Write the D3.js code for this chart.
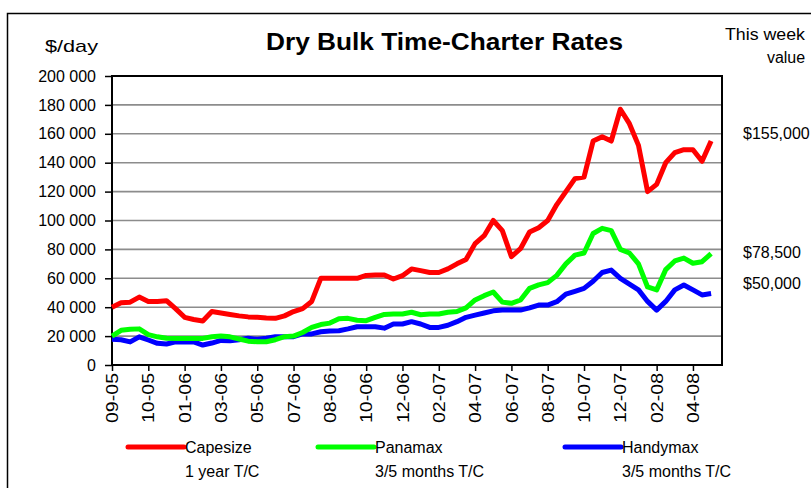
<!DOCTYPE html>
<html>
<head>
<meta charset="utf-8">
<script src="https://cdn.jsdelivr.net/npm/d3@7"></script>
<style>
  body { margin: 0; background: #fff; }
  svg { display: block; font-family: "Liberation Sans", Arial, sans-serif; }
</style>
</head>
<body>
<div id="chart"></div>
<script>
// weekly-ish readings, one tick label every 4 points
var tickLabels = ['09-05', '10-05', '01-06', '03-06', '05-06', '07-06', '08-06', '10-06', '12-06',
                  '02-07', '04-07', '06-07', '08-07', '10-07', '12-07', '02-08', '04-08']

var capesize = [40000, 43000, 43500, 47000, 44000, 44000, 44500, 39000, 33000, 31500,
                30500, 37000, 36000, 35000, 34000, 33300, 33000, 32500, 32300, 34000,
                37000, 39000, 44000, 60000, 60000, 60000, 60000, 60000, 62000, 62300,
                62300, 59500, 61800, 66500, 65300, 64000, 64000, 66500, 70000, 73000,
                84000, 89500, 100000, 93000, 75000, 80500, 92000, 95000, 100000, 111000,
                120000, 129000, 130000, 155000, 158000, 155000, 177000, 167000, 152000, 120000,
                125000, 140000, 147000, 149000, 149000, 141000, 155000]

var panamax = [20000, 24000, 24700, 25000, 21000, 19500, 18500, 18400, 18400, 18400,
               18400, 19500, 20000, 19500, 18000, 16500, 16100, 16100, 17500, 19600,
               20000, 22500, 26000, 28000, 29000, 32000, 32300, 31000, 30700, 33000,
               35000, 35300, 35300, 36500, 34800, 35300, 35300, 36500, 37000, 39500,
               45000, 48000, 50500, 43500, 42700, 45000, 53000, 55400, 57000, 62000,
               70000, 76000, 77500, 91000, 94600, 93000, 80000, 77500, 70000, 54000,
               52000, 66000, 72000, 74000, 70400, 71500, 77000]

var handymax = [17800, 17500, 16000, 19500, 17300, 15000, 14500, 16000, 16100, 16000,
                13800, 15200, 17000, 16800, 17500, 18500, 17800, 18500, 19600, 19600,
                19600, 21500, 21500, 23000, 23500, 23700, 25000, 26500, 26500, 26500,
                25500, 28400, 28400, 30000, 28400, 26000, 26000, 27500, 30000, 33000,
                34500, 36000, 37500, 38000, 38000, 38000, 39500, 41500, 41500, 43800,
                49000, 51000, 53000, 58000, 64000, 65700, 60000, 56000, 52000, 44000,
                38000, 44000, 52000, 55400, 52000, 48500, 49500]

var seriesNames = ['Capesize', 'Panamax', 'Handymax']
var seriesSub = ['1 year T/C', '3/5 months T/C', '3/5 months T/C']
var seriesColors = ['#ff0000', '#00ff00', '#0000ff']
var thisWeek = ['$155,000', '$78,500', '$50,000']

var width = 811, height = 488
var plotL = 112, plotR = 722, plotT = 76, plotB = 365

var svg = d3.select('#chart').append('svg')
    .attr('width', width)
    .attr('height', height)

// outer frame
svg.append('rect')
    .attr('x', 7.5).attr('y', 13.5)
    .attr('width', 900).attr('height', 600)
    .attr('fill', '#fff').attr('stroke', '#000').attr('stroke-width', 1.5)

var x = d3.scaleLinear().domain([0, 67.2]).range([plotL, plotR])
var y = d3.scaleLinear().domain([0, 200000]).range([plotB, plotT])

// grid
svg.append('g')
    .selectAll('line')
    .data(d3.range(20000, 200000, 20000))
    .enter().append('line')
    .attr('x1', plotL).attr('x2', plotR)
    .attr('y1', d => y(d)).attr('y2', d => y(d))
    .attr('stroke', '#8c8c8c').attr('stroke-width', 1.6)

// y axis
var yAxis = d3.axisLeft(y)
    .tickValues(d3.range(0, 200001, 20000))
    .tickSize(7)
    .tickPadding(9)
    .tickFormat(d => d3.format(',')(d).replace(/,/g, ' '))
var gy = svg.append('g').attr('transform', 'translate(' + plotL + ',0)').call(yAxis)
gy.select('.domain').remove()
gy.selectAll('line').attr('stroke', '#000').attr('stroke-width', 1.5)
gy.selectAll('text').attr('font-size', 16).attr('fill', '#000')

// x axis
var xAxis = d3.axisBottom(x)
    .tickValues(tickLabels.map((d, i) => i * 4))
    .tickSize(6)
    .tickFormat((d, i) => tickLabels[i])
var gx = svg.append('g').attr('transform', 'translate(0,' + plotB + ')').call(xAxis)
gx.select('.domain').remove()
gx.selectAll('line').attr('stroke', '#000').attr('stroke-width', 1.5)
gx.selectAll('text')
    .attr('font-size', 16).attr('fill', '#000')
    .attr('text-anchor', 'end')
    .attr('transform', 'rotate(-90)')
    .attr('x', -8).attr('y', 0).attr('dy', '0.35em')
    .attr('textLength', 50).attr('lengthAdjust', 'spacingAndGlyphs')

// plot frame
svg.append('rect')
    .attr('x', plotL).attr('y', plotT)
    .attr('width', plotR - plotL).attr('height', plotB - plotT)
    .attr('fill', 'none').attr('stroke', '#000').attr('stroke-width', 2)

// lines
var line = d3.line()
    .x((d, i) => x(i))
    .y(d => y(d))

var allSeries = [capesize, panamax, handymax]
svg.append('g')
    .selectAll('path')
    .data([2, 1, 0])
    .enter().append('path')
    .attr('d', k => line(allSeries[k]))
    .attr('fill', 'none')
    .attr('stroke', k => seriesColors[k])
    .attr('stroke-width', 5)
    .attr('stroke-linejoin', 'round')

// titles
svg.append('text')
    .attr('x', 266).attr('y', 50)
    .attr('font-size', 24).attr('font-weight', 'bold')
    .attr('textLength', 357).attr('lengthAdjust', 'spacingAndGlyphs')
    .text('Dry Bulk Time-Charter Rates')
svg.append('text')
    .attr('x', 45).attr('y', 52)
    .attr('font-size', 17)
    .attr('textLength', 53).attr('lengthAdjust', 'spacingAndGlyphs')
    .text('$/day')
svg.append('text')
    .attr('x', 725).attr('y', 40)
    .attr('font-size', 16)
    .attr('textLength', 80).attr('lengthAdjust', 'spacingAndGlyphs')
    .text('This week')
svg.append('text')
    .attr('x', 786).attr('y', 63)
    .attr('font-size', 16).attr('text-anchor', 'middle')
    .text('value')

// this week values
var valueY = [139, 258, 289]
svg.append('g')
    .selectAll('text')
    .data(thisWeek)
    .enter().append('text')
    .attr('x', 743).attr('y', (d, i) => valueY[i])
    .attr('font-size', 16)
    .text(d => d)

// legend
var legendX = [128, 318, 565]
var lg = svg.append('g')
    .selectAll('g')
    .data(seriesNames)
    .enter().append('g')
    .attr('transform', (d, i) => 'translate(' + legendX[i] + ',447)')
lg.append('line')
    .attr('x1', 0).attr('x2', 56)
    .attr('stroke', (d, i) => seriesColors[i])
    .attr('stroke-width', 5).attr('stroke-linecap', 'round')
lg.append('text')
    .attr('x', 57).attr('y', 6)
    .attr('font-size', 16)
    .text(d => d)
lg.append('text')
    .attr('x', 57).attr('y', 30)
    .attr('font-size', 16)
    .text((d, i) => seriesSub[i])
</script>
</body>
</html>
